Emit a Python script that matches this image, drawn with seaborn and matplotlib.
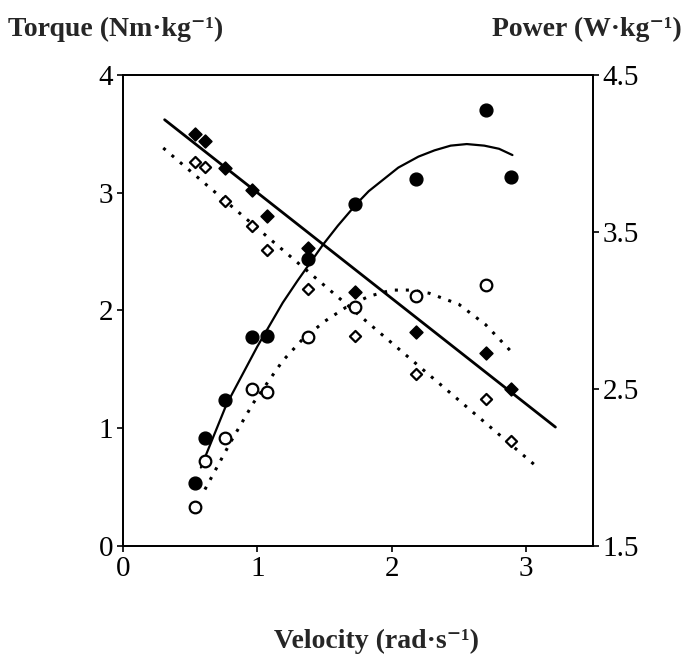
import numpy as np
import pandas as pd
import matplotlib
matplotlib.use('Agg')
import matplotlib.pyplot as plt
import seaborn as sns

# ── Data ─────────────────────────────────────────
velocity = [0.54, 0.61, 0.76, 0.96, 1.07, 1.38, 1.73, 2.18, 2.70, 2.89]
torque_filled = [3.50, 3.44, 3.21, 3.02, 2.80, 2.53, 2.16, 1.82, 1.64, 1.33]
torque_open = [3.26, 3.22, 2.93, 2.72, 2.51, 2.18, 1.78, 1.46, 1.25, 0.89]
power_filled = [1.90, 2.19, 2.43, 2.83, 2.84, 3.33, 3.68, 3.84, 4.28, 3.85]
power_open = [1.75, 2.04, 2.19, 2.50, 2.48, 2.83, 3.02, 3.09, 3.16]

# fitted lines / curves as drawn in the figure
torque_fit_filled_x = [0.31, 3.22]
torque_fit_filled_y = [3.62, 1.01]
torque_fit_open_x = [0.30, 3.09]
torque_fit_open_y = [3.38, 0.665]
power_fit_filled_x = [0.58, 0.77, 1.00, 1.19, 1.30, 1.49, 1.60, 1.74, 1.83,
                      2.05, 2.20, 2.32, 2.44, 2.56, 2.69, 2.80, 2.90]
power_fit_filled_y = [2.00, 2.40, 2.77, 3.05, 3.19, 3.42, 3.54, 3.68, 3.76,
                      3.91, 3.98, 4.02, 4.05, 4.06, 4.05, 4.03, 3.99]
power_fit_open_x = [0.61, 0.80, 0.97, 1.10, 1.19, 1.33, 1.50, 1.66, 1.83,
                    2.00, 2.15, 2.28, 2.50, 2.70, 2.90]
power_fit_open_y = [1.86, 2.16, 2.41, 2.57, 2.68, 2.81, 2.93, 3.02, 3.09,
                    3.13, 3.13, 3.11, 3.04, 2.91, 2.73]

x_ticks = [0, 1, 2, 3]
torque_ticks = [0, 1, 2, 3, 4]
power_ticks = [1.5, 2.5, 3.5, 4.5]
power_tick_labels = ['1.5', '2.5', '3.5', '4.5']

# ── Style ────────────────────────────────────────
sns.set_theme(style='ticks')
plt.rcParams['font.family'] = ['Liberation Serif', 'DejaVu Serif']
plt.rcParams['axes.linewidth'] = 1.3

fig = plt.figure(figsize=(6.94, 6.60), dpi=100)
ax = fig.add_axes([0.1772, 0.1727, 0.6773, 0.7137])
ax2 = ax.twinx()

dotted = (0, (1, 2.6))

# torque (left axis)
sns.lineplot(x=torque_fit_filled_x, y=torque_fit_filled_y, ax=ax, color='black',
             lw=2.0, sort=False, estimator=None)
sns.lineplot(x=torque_fit_open_x, y=torque_fit_open_y, ax=ax, color='black',
             lw=2.2, linestyle=dotted, sort=False, estimator=None)
sns.scatterplot(x=velocity, y=torque_filled, ax=ax, marker='D', s=42,
                color='black', edgecolor='black', linewidth=1.2, zorder=5)
sns.scatterplot(x=velocity, y=torque_open, ax=ax, marker='D', s=32,
                facecolor='white', edgecolor='black', linewidth=1.6, zorder=5)

# power (right axis)
sns.lineplot(x=power_fit_filled_x, y=power_fit_filled_y, ax=ax2, color='black',
             lw=1.6, sort=False, estimator=None)
sns.lineplot(x=power_fit_open_x, y=power_fit_open_y, ax=ax2, color='black',
             lw=2.2, linestyle=dotted, sort=False, estimator=None)
sns.scatterplot(x=velocity, y=power_filled, ax=ax2, marker='o', s=85,
                color='black', edgecolor='black', linewidth=1.0, zorder=5)
sns.scatterplot(x=velocity[:len(power_open)], y=power_open, ax=ax2, marker='o', s=70,
                facecolor='white', edgecolor='black', linewidth=1.6, zorder=5)

# ── Axes ─────────────────────────────────────────
ax.set_xlim(0, 3.5)
ax.set_ylim(0, 4)
ax2.set_ylim(1.5, 4.5)
ax.set_xticks(x_ticks)
ax.set_yticks(torque_ticks)
ax2.set_yticks(power_ticks)
ax2.set_yticklabels(power_tick_labels)

for a in (ax, ax2):
    a.set_xlabel('')
    a.set_ylabel('')
    a.tick_params(direction='out', length=4, width=1.2, labelsize=21,
                  colors='black', pad=3)
    for sp in a.spines.values():
        sp.set_visible(True)
        sp.set_color('black')

fig.text(0.012, 0.955, 'Torque (Nm·kg⁻¹)', fontsize=20, fontweight='bold',
         ha='left', va='center')
fig.text(0.982, 0.955, 'Power (W·kg⁻¹)', fontsize=20, fontweight='bold',
         ha='right', va='center')
fig.text(0.543, 0.028, 'Velocity (rad·s⁻¹)', fontsize=20, fontweight='bold',
         ha='center', va='center')

plt.savefig('out.png', dpi=100)
